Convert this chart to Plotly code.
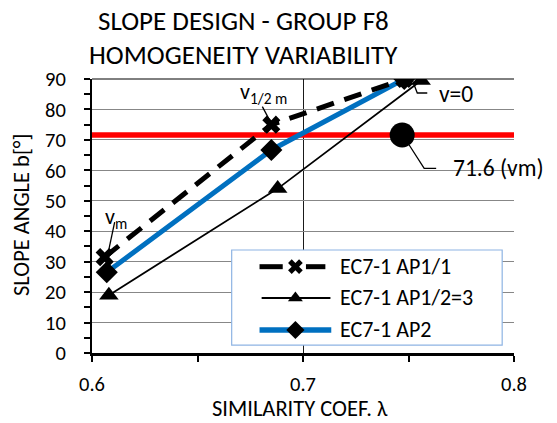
import plotly.graph_objects as go

# ---- data -------------------------------------------------------------
series_names = ["EC7-1 AP1/1", "EC7-1 AP1/2=3", "EC7-1 AP2"]
lam_ap11 = [0.606, 0.685, 0.748]
ang_ap11 = [31.5, 75.0, 90.0]
lam_ap123 = [0.608, 0.688, 0.756]
ang_ap123 = [19.0, 54.0, 89.5]
lam_ap2 = [0.607, 0.685, 0.748]
ang_ap2 = [26.5, 66.7, 90.0]
vm_lambda = 0.747
vm_angle = 71.6
x_range = [0.6, 0.8]
y_range = [0, 90]

FONT = "Carlito, Lato, sans-serif"
BLUE = "#0070C0"
RED = "#FF0000"


def dom_x(f):
    """plot-area fraction -> x data value"""
    return x_range[0] + f * (x_range[1] - x_range[0])


def dom_y(f):
    """plot-area fraction -> y data value"""
    return y_range[0] + f * (y_range[1] - y_range[0])


fig = go.Figure()

# mean-value horizontal reference line
fig.add_trace(go.Scatter(x=x_range, y=[vm_angle, vm_angle], mode="lines",
                         line=dict(color=RED, width=5.5), showlegend=False,
                         hoverinfo="skip"))

fig.add_trace(go.Scatter(x=lam_ap2, y=ang_ap2, mode="lines+markers",
                         name=series_names[2],
                         line=dict(color=BLUE, width=5),
                         marker=dict(symbol="diamond", size=17, color="black"),
                         showlegend=False))
fig.add_trace(go.Scatter(x=lam_ap11, y=ang_ap11, mode="lines+markers",
                         name=series_names[0],
                         line=dict(color="black", width=5, dash="18px,11px"),
                         marker=dict(symbol="x", size=16, color="black"),
                         showlegend=False))
fig.add_trace(go.Scatter(x=lam_ap123, y=ang_ap123, mode="lines+markers",
                         name=series_names[1],
                         line=dict(color="black", width=1.8),
                         marker=dict(symbol="triangle-up", size=17, color="black"),
                         showlegend=False))
fig.add_trace(go.Scatter(x=[vm_lambda], y=[vm_angle], mode="markers",
                         marker=dict(symbol="circle", size=25, color="black"),
                         showlegend=False))

# ---- legend box, drawn on an overlay axis pair spanning the plot area ----
leg_rows = [0.315, 0.201, 0.084]
leg_mid = 0.482
leg_text_x = 0.582
legend_styles = [
    dict(line=dict(color="black", width=5), symbol="x", msize=13,
         segments=([0.397, 0.452], [0.507, 0.553])),
    dict(line=dict(color="black", width=2), symbol="triangle-up", msize=13,
         segments=([0.402, 0.565],)),
    dict(line=dict(color=BLUE, width=5.5), symbol="diamond", msize=14,
         segments=([0.397, 0.567],)),
]
for name, row, st in zip(series_names, leg_rows, legend_styles):
    xs, ys = [], []
    for seg in st["segments"]:
        xs += [seg[0], seg[1], None]
        ys += [row, row, None]
    fig.add_trace(go.Scatter(x=xs, y=ys, mode="lines", line=st["line"],
                             xaxis="x2", yaxis="y2", showlegend=False,
                             hoverinfo="skip"))
    fig.add_trace(go.Scatter(x=[leg_mid], y=[row], mode="markers",
                             marker=dict(symbol=st["symbol"], size=st["msize"],
                                         color="black"),
                             xaxis="x2", yaxis="y2", showlegend=False,
                             hoverinfo="skip"))

annotations = [
    dict(text="SLOPE DESIGN - GROUP F8", xref="paper", yref="paper",
         x=0.359, y=1.215, xanchor="center", yanchor="middle",
         showarrow=False, font=dict(size=27)),
    dict(text="HOMOGENEITY VARIABILITY", xref="paper", yref="paper",
         x=0.359, y=1.089, xanchor="center", yanchor="middle",
         showarrow=False, font=dict(size=27)),
    dict(text="SLOPE ANGLE b[°]", xref="paper", yref="paper",
         x=-0.1655, y=0.504, xanchor="center", yanchor="middle",
         textangle=-90, showarrow=False, font=dict(size=22.5)),
    dict(text="SIMILARITY COEF. λ", xref="paper", yref="paper",
         x=0.494, y=-0.204, xanchor="center", yanchor="middle",
         showarrow=False, font=dict(size=22.5)),
    # point labels
    dict(text="v<sub>m</sub>", x=lam_ap11[0], y=ang_ap11[0], xref="x", yref="y",
         xshift=11, yshift=39, showarrow=False, font=dict(size=22)),
    dict(text="v<sub>1/2 m</sub>", x=lam_ap11[1], y=ang_ap11[1], xref="x", yref="y",
         xshift=-8, yshift=32, showarrow=False, font=dict(size=22)),
    dict(text="v=0", x=lam_ap11[2], y=ang_ap11[2], xref="x", yref="y",
         xanchor="left", xshift=33, yshift=-14.5, showarrow=False,
         font=dict(size=23.5)),
    dict(text=f"{vm_angle} (vm)", x=vm_lambda, y=vm_angle, xref="x", yref="y",
         xanchor="left", xshift=49, yshift=-33.4, showarrow=False,
         font=dict(size=23.5)),
]
for name, row in zip(series_names, leg_rows):
    annotations.append(dict(text=name, x=leg_text_x, y=row, xref="x2", yref="y2",
                            xanchor="left", yanchor="middle", showarrow=False,
                            font=dict(size=22)))

leader = dict(color="black", width=1.3)
shapes = [
    # legend frame (above grid, below traces)
    dict(type="rect", xref="x", yref="y", x0=dom_x(0.331), x1=dom_x(0.972),
         y0=dom_y(0.029), y1=dom_y(0.376), layer="between", fillcolor="white",
         line=dict(color="#8EB4E3", width=1.2)),
    # top frame line
    dict(type="line", xref="paper", yref="paper", x0=0, x1=1, y0=1, y1=1,
         line=dict(color="black", width=1)),
    # label leaders, anchored at their points
    dict(type="path", xref="x", yref="y", xsizemode="pixel", ysizemode="pixel",
         xanchor=lam_ap11[0], yanchor=ang_ap11[0], path="M 3 2 L 10 35",
         line=leader),
    dict(type="path", xref="x", yref="y", xsizemode="pixel", ysizemode="pixel",
         xanchor=lam_ap11[1], yanchor=ang_ap11[1], path="M -1 3 L -9 18",
         line=leader),
    dict(type="path", xref="x", yref="y", xsizemode="pixel", ysizemode="pixel",
         xanchor=lam_ap11[2], yanchor=ang_ap11[2], path="M 8 -1 L 13 -14 L 23 -14",
         line=leader),
    dict(type="path", xref="x", yref="y", xsizemode="pixel", ysizemode="pixel",
         xanchor=vm_lambda, yanchor=vm_angle, path="M 7 -10 L 22 -33.4 L 34 -33.4",
         line=leader),
]

fig.update_layout(
    width=557, height=423,
    margin=dict(l=92, r=43, t=79, b=70),
    paper_bgcolor="white", plot_bgcolor="white",
    font=dict(family=FONT, color="black", size=20),
    showlegend=False,
    xaxis=dict(range=x_range, tick0=0.6, dtick=0.1, tickformat=".1f",
               showgrid=True, gridcolor="#1a1a1a", gridwidth=1,
               showline=True, linecolor="black", linewidth=2.5,
               ticks="outside", ticklen=6, tickwidth=1.5, tickcolor="black",
               minor=dict(dtick=0.05, ticks="outside", ticklen=6,
                          tickcolor="black", tickwidth=1.5, showgrid=False),
               ticklabelstandoff=5, zeroline=False,
               tickfont=dict(size=20.5)),
    yaxis=dict(range=y_range, dtick=10,
               showgrid=True, gridcolor="#878787", gridwidth=1,
               showline=True, linecolor="black", linewidth=2,
               ticks="outside", ticklen=6, tickwidth=1.5, tickcolor="black",
               minor=dict(dtick=5, ticks="outside", ticklen=6,
                          tickcolor="black", tickwidth=1.5, showgrid=False),
               ticklabelstandoff=14, zeroline=False,
               tickfont=dict(size=20.5)),
    xaxis2=dict(overlaying="x", range=[0, 1], visible=False, anchor="y2"),
    yaxis2=dict(overlaying="y", range=[0, 1], visible=False, anchor="x2"),
    annotations=annotations,
    shapes=shapes,
)

fig.write_html("out.html")
